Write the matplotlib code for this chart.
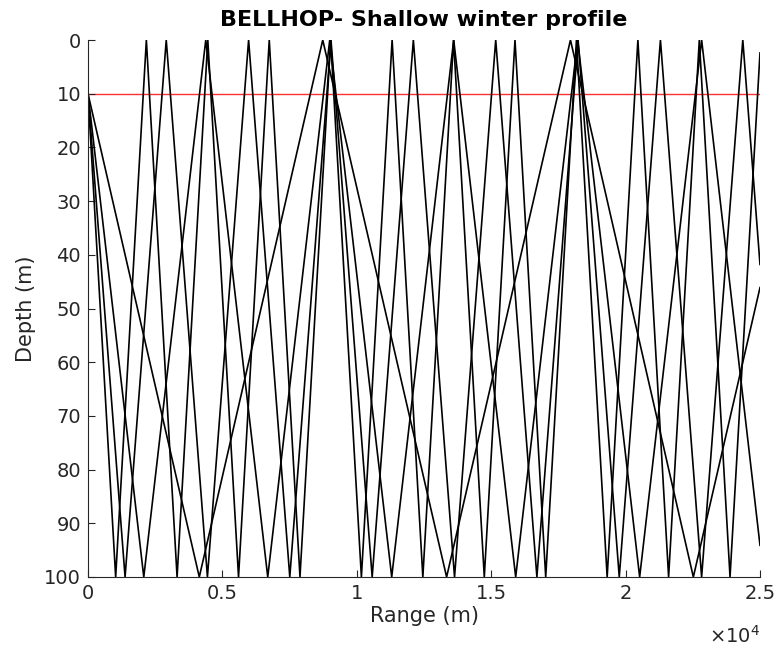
import numpy as np
import matplotlib.pyplot as plt

# source / geometry
source_depth = 10.0
max_range = 25000.0
water_depth = 100.0

# ray turning points (range in m), alternating bottom, surface, bottom...
ray1_turns = [1029, 2171, 3314, 4457, 5600, 6743, 7886, 9028, 10171, 11314,
              12457, 13600, 14743, 15885, 17028, 18171, 19314, 20457, 21600,
              22742, 23885]
ray2_turns = [1379, 2911, 4443, 5975, 7507, 9040, 10572, 12104, 13636, 15168,
              16700, 18232, 19764, 21296, 22828, 24360]
ray3_turns = [2075, 4381, 6687, 8993, 11299, 13605, 15911, 18217, 20523, 22829]
ray4_turns = [4140, 8733, 13341, 17949, 22520]

# depth of each ray at the end of the range
end_depths = [2.4, 41.8, 94.1, 46.1]

xtick_vals = [0, 5000, 10000, 15000, 20000, 25000]
xtick_labels = ['0', '0.5', '1', '1.5', '2', '2.5']
ytick_vals = [0, 10, 20, 30, 40, 50, 60, 70, 80, 90, 100]


def rayPath(turns, endDepth):
    r = [0.0] + list(turns) + [max_range]
    z = [source_depth]
    for k in range(len(turns)):
        z.append(water_depth if k % 2 == 0 else 0.0)
    z.append(endDepth)
    return np.array(r), np.array(z)


fig = plt.figure(figsize=(7.78, 6.5), dpi=100)
ax = fig.add_axes([88/778, 73/650, 672/778, 537/650])

ax.plot([0, max_range], [source_depth, source_depth], color='#ff3030',
        linewidth=1.0, zorder=1)

for turns, zEnd in zip([ray1_turns, ray2_turns, ray3_turns, ray4_turns], end_depths):
    r, z = rayPath(turns, zEnd)
    ax.plot(r, z, color='black', linewidth=1.2, zorder=2)

ax.set_xlim(0, max_range)
ax.set_ylim(water_depth, 0)
ax.set_xticks(xtick_vals)
ax.set_xticklabels(xtick_labels)
ax.set_yticks(ytick_vals)

for s in ['top', 'right']:
    ax.spines[s].set_visible(False)
for s in ['left', 'bottom']:
    ax.spines[s].set_color('#262626')
    ax.spines[s].set_linewidth(0.8)
ax.tick_params(direction='in', length=5, width=0.8, colors='#262626',
               labelsize=14, labelcolor='#262626', pad=5)

ax.set_xlabel('Range (m)', fontsize=15, color='#262626', labelpad=2)
ax.set_ylabel('Depth (m)', fontsize=15, color='#262626', labelpad=6)
ax.set_title('BELLHOP- Shallow winter profile', fontsize=16, fontweight='bold',
             pad=10)
ax.text(1.0, -0.09, r'$\times10^4$', transform=ax.transAxes, ha='right',
        va='top', fontsize=14, color='#262626')

fig.savefig('out.png', dpi=100)
